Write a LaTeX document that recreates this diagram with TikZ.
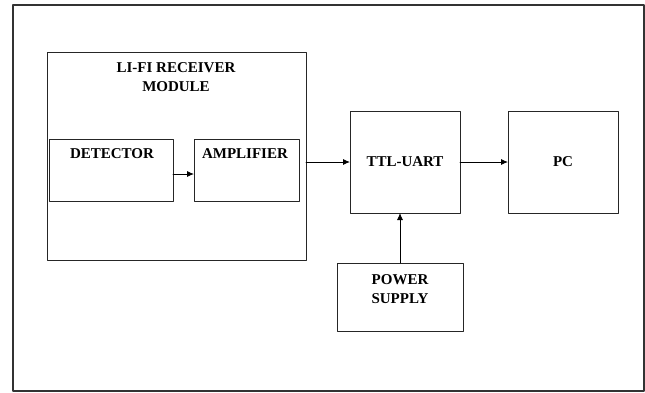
\documentclass[tikz,border=0pt]{standalone}
\usepackage{fontspec}
\setmainfont{Liberation Serif}
\usetikzlibrary{arrows.meta,positioning}
\begin{document}
\begin{tikzpicture}[x=1pt, y=-1pt, line cap=round, line join=round,
    block/.style={draw=black!85, line width=0.9pt, inner sep=0pt, outer sep=0pt},
    txt/.style={font=\fontsize{15}{19}\selectfont\bfseries, align=center, inner sep=0pt},
    arr/.style={line width=0.9pt, -{Latex[length=7pt,width=6pt]}}]
    \useasboundingbox (0,0) rectangle (645,392);
    \draw[line width=1.6pt, black!80] (13,5) rectangle (644,391);
    % receiver module
    \node[block, minimum width=259pt, minimum height=208pt] (mod) at (176.5,156) {};
    \node[txt] (modtxt) at (176,77) {LI-FI RECEIVER\\MODULE};
    \node[block, minimum width=124pt, minimum height=62pt] (det) at (111,170) {};
    \node[txt] (dettxt) at (112,154) {DETECTOR};
    \node[block, minimum width=105pt, minimum height=62pt] (amp) at (246.5,170) {};
    \node[txt] (amptxt) at (245,154) {AMPLIFIER};
    % other blocks
    \node[block, minimum width=110pt, minimum height=102pt, txt] (ttl) at (405,162) {TTL-UART};
    \node[block, minimum width=110pt, minimum height=102pt, txt] (pc) at (563,162) {PC};
    \node[block, minimum width=126pt, minimum height=68pt] (pwr) at (400,297) {};
    \node[txt] (pwrtxt) at (400,289) {POWER\\SUPPLY};
    % connections
    \draw[arr] ([yshift=-4pt]det.east) -- ([yshift=-4pt]amp.west);
    \draw[arr] (mod.east |- ttl.west) -- (ttl.west);
    \draw[arr] (ttl.east) -- (pc.west);
    \draw[arr] (pwr.north) -- (pwr.north |- ttl.south);
  \end{tikzpicture}
\end{document}
